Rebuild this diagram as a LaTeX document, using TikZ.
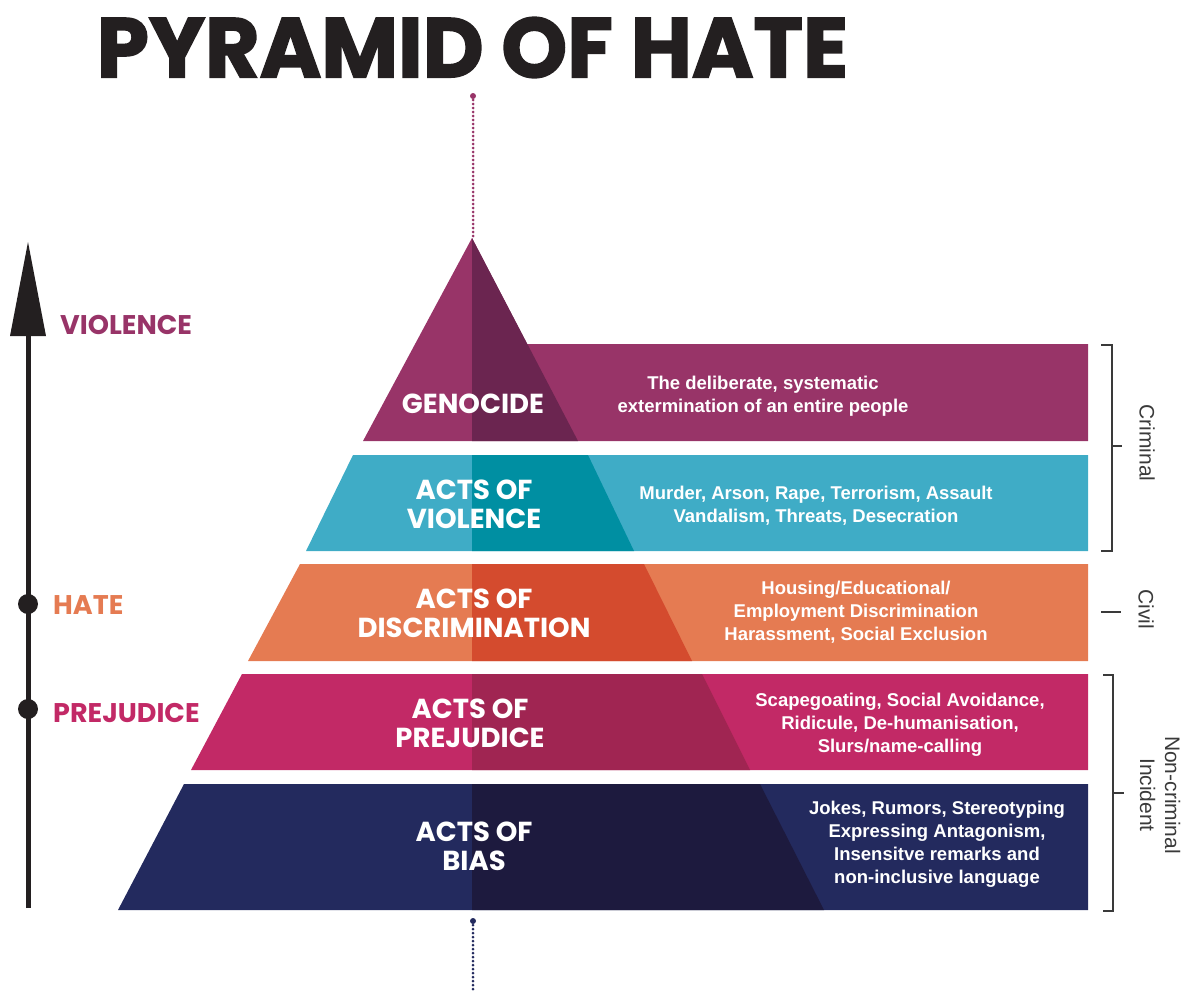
\documentclass[tikz,border=0pt]{standalone}
\usepackage{graphicx}
\usepackage{fontspec}
\setmainfont{Liberation Sans}
\newfontfamily\geofont{Poppins}
\newfontfamily\titlefont{Poppins}[BoldFeatures={FakeBold=2}]
\definecolor{genL}{HTML}{983468}
\definecolor{genD}{HTML}{6B2550}
\definecolor{vioL}{HTML}{3FACC6}
\definecolor{vioD}{HTML}{008FA2}
\definecolor{disL}{HTML}{E57B52}
\definecolor{disD}{HTML}{D44B2E}
\definecolor{preL}{HTML}{C22966}
\definecolor{preD}{HTML}{A02552}
\definecolor{biaL}{HTML}{232A5E}
\definecolor{biaD}{HTML}{1D1A3E}
\definecolor{ink}{HTML}{231F20}
\definecolor{brk}{HTML}{3A3A3A}
\tikzset{
  lvl/.style={text=white, font=\geofont\bfseries\fontsize{27.5}{29.5}\selectfont, align=center, inner sep=0pt},
  desc/.style={text=white, font=\bfseries\fontsize{18.5}{23}\selectfont, align=center, inner sep=0pt},
  side/.style={font=\geofont\bfseries\fontsize{27}{30}\selectfont, anchor=west, inner sep=0pt},
  lab/.style={text=brk, font=\fontsize{21}{25}\selectfont, rotate=-90, align=center, inner sep=0pt},
  brack/.style={draw=brk, line width=2pt},
  dots/.style={line width=3pt, dash pattern=on 0pt off 4pt, line cap=round},
}
\begin{document}
\begin{tikzpicture}[x=1pt,y=-1pt]
\useasboundingbox (0,0) rectangle (1189,991);
% title
\node[text=ink, inner sep=0pt] (title) at (472.5,47.5) {\titlefont\bfseries\resizebox{751pt}{60pt}{PYRAMID OF HATE}};
% dotted centre lines
\coordinate (dtA) at (473,96);
\coordinate (dtB) at (473,236);
\coordinate (dbA) at (473,921);
\coordinate (dbB) at (473,991);
\fill[genL] (dtA) circle (3);
\draw[genL, dots] (dtA) -- (dtB);
\fill[biaL] (dbA) circle (3);
\draw[biaL, dots] (dbA) -- (dbB);
% layers
\fill[genL] (472,238) -- (527,344) -- (1088,344) -- (1088,441) -- (363,441) -- cycle;
\fill[genD] (472,238) -- (578,441) -- (472,441) -- cycle;
\fill[vioL] (353,455) -- (1088,455) -- (1088,551) -- (306,551) -- cycle;
\fill[vioD] (472,455) -- (588,455) -- (634,551) -- (472,551) -- cycle;
\fill[disL] (300,564) -- (1088,564) -- (1088,661) -- (248,661) -- cycle;
\fill[disD] (472,564) -- (644,564) -- (692,661) -- (472,661) -- cycle;
\fill[preL] (242,674) -- (1088,674) -- (1088,770) -- (191,770) -- cycle;
\fill[preD] (472,674) -- (702,674) -- (750,770) -- (472,770) -- cycle;
\fill[biaL] (184,784) -- (1088,784) -- (1088,910) -- (118,910) -- cycle;
\fill[biaD] (472,784) -- (760,784) -- (824,910) -- (472,910) -- cycle;
% level names
\node[lvl] (lgen) at (473,403.5) {GENOCIDE};
\node[lvl] (lvio) at (474,504.5) {ACTS OF\\VIOLENCE};
\node[lvl] (ldis) at (474,613.5) {ACTS OF\\DISCRIMINATION};
\node[lvl] (lpre) at (470,723.5) {ACTS OF\\PREJUDICE};
\node[lvl] (lbia) at (474,846.5) {ACTS OF\\BIAS};
% descriptions
\node[desc] (dgen) at (763,396) {The deliberate, systematic\\extermination of an entire people};
\node[desc] (dvio) at (816,506) {Murder, Arson, Rape, Terrorism, Assault\\Vandalism, Threats, Desecration};
\node[desc] (ddis) at (856,612) {Housing/Educational/\\Employment Discrimination\\Harassment, Social Exclusion};
\node[desc] (dpre) at (900,725) {Scapegoating, Social Avoidance,\\Ridicule, De-humanisation,\\Slurs/name-calling};
\node[desc] (dbia) at (937,844) {Jokes, Rumors, Stereotyping\\Expressing Antagonism,\\Insensitve remarks and\\non-inclusive language};
% left axis
\coordinate (axB) at (28,908);
\coordinate (axT) at (28,334);
\draw[ink, line width=5pt] (axB) -- (axT);
\fill[ink] (10,336) -- (28,242) -- (46,336) -- cycle;
\fill[ink] (28,604) circle (10);
\fill[ink] (28,709) circle (10);
\node[side, text=genL] (sv) at (60,324.5) {VIOLENCE};
\node[side, text=disL] (sh) at (53,605.5) {HATE};
\node[side, text=preL] (sp) at (53,712.5) {PREJUDICE};
% brackets
\draw[brack] (1101,345) -- (1112,345) -- (1112,551) -- (1101,551);
\draw[brack] (1112,446) -- (1122,446);
\draw[brack] (1101,612) -- (1121,612);
\draw[brack] (1103,675) -- (1113,675) -- (1113,911) -- (1103,911);
\draw[brack] (1113,793) -- (1124,793);
\node[lab] (lcrim) at (1147,443) {Criminal};
\node[lab] (lciv) at (1146,609) {Civil};
\node[lab] (lnon) at (1160,795) {Non-criminal\\Incident};
\end{tikzpicture}
\end{document}
